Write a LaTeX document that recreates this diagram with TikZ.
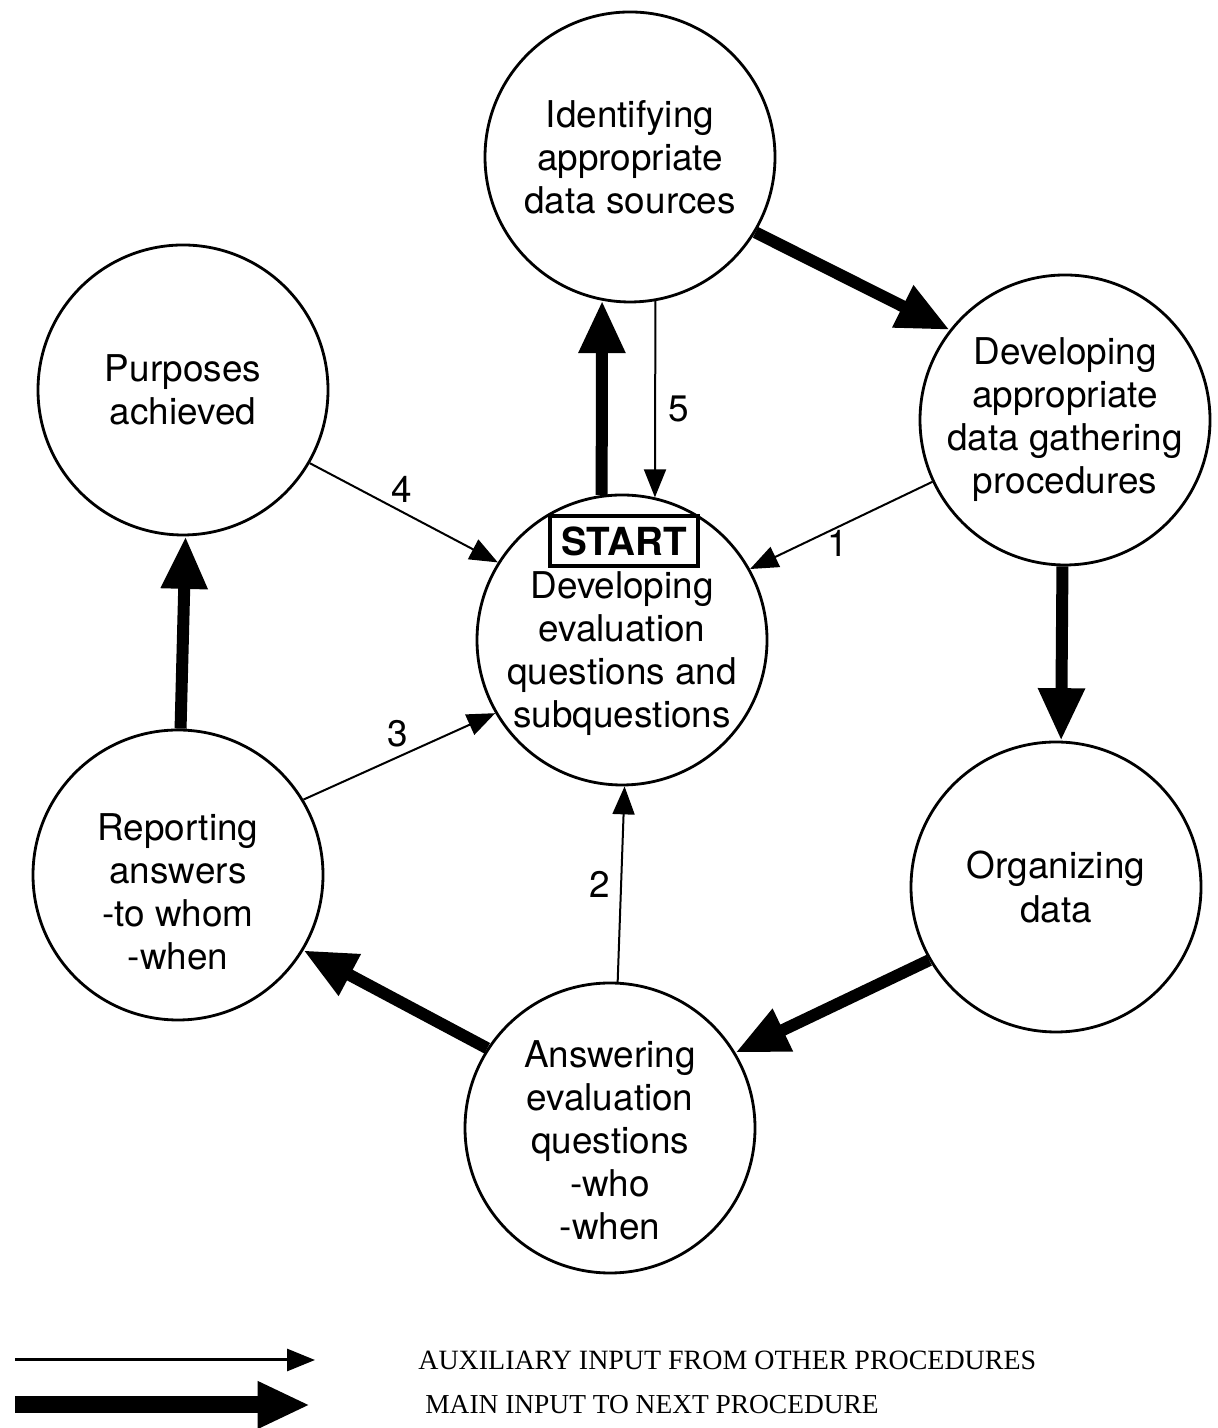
\documentclass[tikz,border=0pt]{standalone}
\usepackage{fontspec}
\setmainfont{TeX Gyre Heros}
\newfontfamily\legendfont{Liberation Serif}
\usetikzlibrary{arrows.meta}

\tikzset{
	stage/.style={draw, circle, line width=1.6pt, minimum size=5.8cm, inner sep=0pt},
	stagetext/.style={align=center, font=\fontsize{21}{24.5}\selectfont},
	mainin/.style={line width=0.24cm, -{Triangle[length=1.05cm,width=0.88cm]}},
	auxin/.style={line width=0.04cm, -{Triangle[length=0.56cm,width=0.44cm]}},
	num/.style={inner sep=1pt, font=\fontsize{21}{24}\selectfont},
	legend/.style={anchor=west, inner sep=0pt, font=\legendfont\fontsize{15.6}{18}\selectfont},
}

\begin{document}
\begin{tikzpicture}
			%%%%% START %%%%%
			\useasboundingbox (0, 0) rectangle (24.34, 28.56);
			
			% the seven procedures
			\node[stage] (src) at (12.6, 25.42) {};
			\node[stagetext] (srcT) at (src) {Identifying\\appropriate\\data sources};
			
			\node[stage] (proc) at (21.3, 20.16) {};
			\node[stagetext] (procT) at (proc) {Developing\\appropriate\\data gathering\\procedures};
			
			\node[stage] (purp) at (3.66, 20.76) {};
			\node[stagetext] (purpT) at (purp) {Purposes\\achieved};
			
			\node[stage] (start) at (12.44, 15.76) {};
			\node[stagetext] (startT) at (12.44, 15.48) {Developing\\evaluation\\questions and\\subquestions};
			\node[draw, line width=2pt, minimum width=2.96cm, minimum height=1cm, inner sep=0pt,
				font=\fontsize{22}{24}\selectfont\bfseries] (startbox) at (12.48, 17.74) {START};
			
			\node[stage] (rep) at (3.56, 11.06) {};
			\node[stagetext] (repT) at (3.56, 10.72) {Reporting\\answers\\-to whom\\-when};
			
			\node[stage] (org) at (21.12, 10.82) {};
			\node[stagetext] (orgT) at (org) {Organizing\\data};
			
			\node[stage] (ans) at (12.2, 6.0) {};
			\node[stagetext] (ansT) at (12.2, 5.76) {Answering\\evaluation\\questions\\-who\\-when};
			
			% main inputs
			\draw[mainin] (start.98) -- (src.259);
			\draw[mainin] (src.-31) -- (proc.142);
			\draw[mainin] (proc.269) -- (org.88);
			\draw[mainin] (org.210) -- (ans.31);
			\draw[mainin] (ans.147) -- (rep.-31);
			\draw[mainin] (rep.89) -- (purp.271);
			
			% auxiliary inputs
			\draw[auxin] (proc.205) -- node[num, below, pos=0.52] {1} (start.29);
			\draw[auxin] (ans.87) -- node[num, left=5pt, pos=0.5] {2} (start.271);
			\draw[auxin] (rep.31) -- node[num, above=4pt, pos=0.49] {3} (start.210);
			\draw[auxin] (purp.-30) -- node[num, above=4pt, pos=0.49] {4} (start.148);
			\draw[auxin] (src.280) -- node[num, right=6pt, pos=0.55] {5} (start.77);
			
			% legend
			\coordinate (auxA) at (0.3, 1.36);
			\coordinate (auxB) at (6.3, 1.36);
			\draw[auxin, line width=0.06cm] (auxA) -- (auxB);
			\node[legend, font=\legendfont\fontsize{15.9}{18}\selectfont] (auxT) at (8.36, 1.36) {AUXILIARY INPUT FROM OTHER PROCEDURES};
			
			\coordinate (mainA) at (0.3, 0.46);
			\coordinate (mainB) at (6.2, 0.46);
			\draw[mainin, line width=0.34cm] (mainA) -- (mainB);
			\node[legend] (mainT) at (8.5, 0.46) {MAIN INPUT TO NEXT PROCEDURE};
			%%%%% END %%%%%
\end{tikzpicture}
\end{document}
